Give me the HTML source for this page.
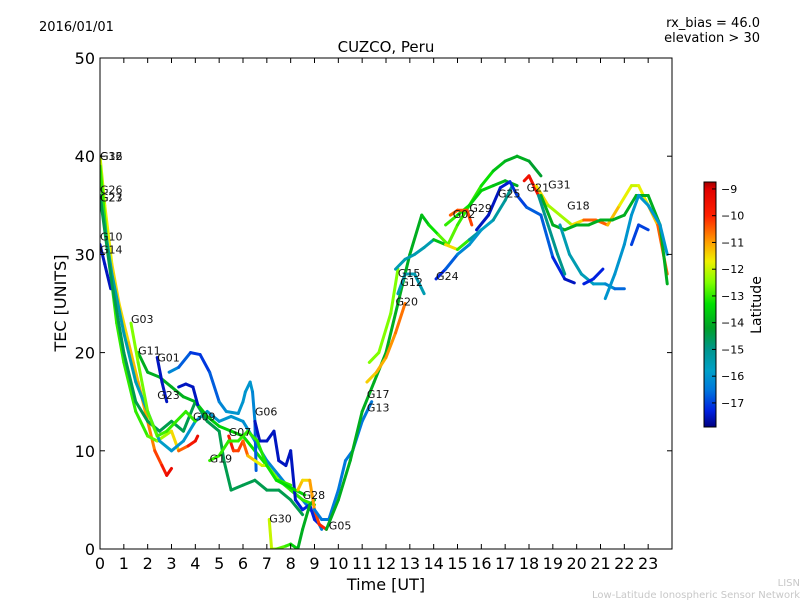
<!DOCTYPE html>
<html><head><meta charset="utf-8"><style>
body{margin:0;background:#fff;}
svg{display:block;font-family:"DejaVu Sans","Liberation Sans",sans-serif;}
</style></head><body>
<svg id="chart" width="800" height="600" viewBox="0 0 800 600" xmlns="http://www.w3.org/2000/svg">
<defs>
<linearGradient id="cmap" x1="0" y1="1" x2="0" y2="0"></linearGradient>
<clipPath id="plotclip"><rect x="100" y="58" width="572" height="491"/></clipPath>
</defs>
<rect width="800" height="600" fill="#fff"/>
<text x="39" y="31" font-size="13">2016/01/01</text>
<text x="760" y="27" font-size="13" text-anchor="end">rx_bias = 46.0</text>
<text x="760" y="42" font-size="13" text-anchor="end">elevation &gt; 30</text>
<text x="386" y="52" font-size="15" text-anchor="middle">CUZCO, Peru</text>
<text x="386" y="590" font-size="16" text-anchor="middle">Time [UT]</text>
<text x="66" y="303" font-size="16" text-anchor="middle" transform="rotate(-90 66 303)">TEC [UNITS]</text>
<text x="800" y="586" font-size="10" fill="#c8c8c8" text-anchor="end">LISN</text>
<text x="800" y="598" font-size="10" fill="#c8c8c8" text-anchor="end">Low-Latitude Ionospheric Sensor Network</text>
<g id="series" clip-path="url(#plotclip)"></g>
<g id="labels"></g>
<g id="axes"></g>
<rect x="100" y="58" width="572" height="491" fill="none" stroke="#000" stroke-width="1"/>
<rect x="704" y="182" width="12" height="245" fill="url(#cmap)" stroke="#000" stroke-width="1"/>
<g id="cbticks"></g>
<text x="761" y="305" font-size="14" text-anchor="middle" transform="rotate(-90 761 305)">Latitude</text>
</svg>
<script>
const xTicks=[0,1,2,3,4,5,6,7,8,9,10,11,12,13,14,15,16,17,18,19,20,21,22,23];
const yTicks=[0,10,20,30,40,50];
const cbTicks=[-9,-10,-11,-12,-13,-14,-15,-16,-17];
const seriesTimes=[
[0,0.2,0.5,0.8,1.2,1.6,2,2.3,2.6,2.8,3.0],
[0,0.3,0.7,1,1.5,2,2.4,3,3.3,3.7,4,4.1],
[0,0.2,0.45],
[0,0.5,1,1.5,2,2.5,3,3.5,4,4.5,5,5.5,6,6.5,7,7.5,8,8.5,9,9.3],
[0,0.5,1,1.5,2,2.5,3,3.5,4,4.5,5,5.2,5.5,6,6.5,7,7.5,8,8.5],
[1.6,2,2.5,3,3.5,4,4.5,5,5.5,6,6.5,7,7.5,8,8.5,9],
[1.3,1.6,2,2.4,2.8,3.2,3.6,4],
[2.4,2.6,2.8],
[2.9,3.3,3.8,4.2,4.6,5,5.3,5.8,6,6.1,6.3,6.4,6.5,6.55],
[3.3,3.6,3.9,4.1],
[6.5,6.7,7.0,7.3,7.5,7.8,8.0,8.2,8.5,8.8,9.0,9.3],
[5.4,5.6,5.8,6,6.2,6.5,6.8,7,7.5,8],
[4.6,5,5.4,5.8,6.2,6.6,7,7.4,7.8,8.2,8.6],
[7.1,7.2,7.4,7.8,8,8.3,8.5,8.8,9],
[8.3,8.5,8.8,9,9.2,9.5],
[9,9.3,9.6,10,10.3,10.6,11,11.4],
[9.5,10,10.5,11,11.5,12,12.5,13,13.5,13.8,14.2,14.6,15,15.5,16,16.5,17,17.5,18,18.5],
[11.2,11.6,12,12.4,12.8],
[11.3,11.7,12.2,12.5],
[12.5,12.8,13.2,13.6],
[12.4,12.8,13.2,13.6,14,14.5,15,15.5,16],
[14.1,14.5,15,15.5,16,16.5,17,17.3],
[14.5,15,15.5,16,16.5,17,17.5],
[14.7,15,15.4,15.6],
[15.8,16.3,16.8,17.2,17.5,17.9,18.5,19,19.5,19.9],
[17.8,18,18.3,18.5],
[18.3,18.8,19.3,19.8,20.3,20.8,21.3,21.8,22.3,22.6,23,23.4,23.8],
[18.5,19,19.5,20,20.5,21,21.5,22,22.5,23,23.5,23.8],
[19.3,19.7,20.2,20.7,21.2,21.6,22],
[21.2,21.6,22,22.3,22.6,23,23.5,23.8],
[22.3,22.6,23],
[20.3,20.7,21.1],
[18.4,18.8,19.2,19.5]
];
const seriesTec=[
[40,35,29,25,21,17,13,10,8.5,7.5,8.2],
[39,31,23,19,14,11.5,11,12,10,10.5,11,11.5],
[31,29,26.5],
[36,28,22,17,14,11,10,11,13,14,13,13.5,13,11,9,7.5,6,5,3.5,2],
[36,27,20,15,13,12,13,12,15,13,12,9,6,6.5,7,6,6,5,3.5],
[20,18,17.5,16.5,15.5,15,13.5,12.5,12,11.5,10,8.5,7,6,5,4.5],
[23,19,14,11.5,12,13,14,13],
[19.5,17,15],
[18,18.5,20,19.8,18,15,14,13.8,15,16,17,16,13,8],
[16.5,16.8,16.5,14.7],
[13,11,11,12,9,8.5,10,5,4,4.5,3,2.3],
[11.5,10,10,11,9.5,9,8.5,8.5,7,6.5],
[9,9.5,11,11,12,11,8.5,7,6.5,6,5.5],
[3,0,0,0.3,0.5,0,2,4.5,5],
[6,7,7,4,2.5,2],
[4,3,3,6,9,10,13,15],
[2,5,9,14,17,20,25,30,34,33,32,31,33,35,37,38.5,39.5,40,39.5,38],
[17,18,19.5,22,25],
[19,20,24,28.5],
[26,28,28,26],
[28.5,29.5,30,30.7,31.5,31,30.5,31.5,32.5],
[27.5,28.5,30,31,32.5,33.5,35.5,37],
[33,34,35,36.5,37,37.5,37],
[34,34.5,34.5,33],
[32.5,34,36.8,37.4,36,34.8,34,29.7,27.5,27.1],
[37.5,38,36.5,35.5],
[37,35,34,33,33.5,33.5,33,35,37,37,35,33,28],
[36,33,32.5,33,33,33.5,33.5,34,36,36,33,27],
[33,30,28,27,27,26.5,26.5],
[25.5,28,31,34,36,35,33,30],
[31,33,32.5],
[27,27.5,28.5],
[36,33,30,28]
];
const seriesLat=[
[-12,-12,-11.5,-11.5,-11.5,-11,-11,-10.5,-10,-9.5,-9.2],
[-13,-13,-13,-13,-13,-13,-12.5,-12,-11,-10,-9.5,-9.3],
[-17.5,-17.5,-17.5],
[-15.5,-15.5,-15.5,-15.5,-15.7,-15.7,-16,-16,-16,-16,-16,-16,-16,-16.2,-16.2,-16.3,-16.3,-16.5,-16.5,-16.5],
[-14.5,-14.5,-14.5,-14.5,-14.5,-14.5,-14.5,-14.5,-14.5,-14.5,-14.5,-14.5,-14.5,-14.5,-14.5,-14.5,-14.5,-14.5,-14.5],
[-14,-14,-14,-14,-14,-13.8,-13.6,-13.5,-13.5,-13.3,-13.2,-13.2,-13,-13,-13,-13],
[-12.5,-12.5,-12.7,-12.8,-13,-13,-13,-13],
[-17.5,-17.5,-17.5],
[-16,-16.5,-17,-17.2,-17,-16.5,-16,-16,-16,-16,-16,-16,-16.5,-17],
[-17.5,-17.5,-17.5,-17.5],
[-17.5,-17.5,-17.5,-17.5,-17.5,-17.5,-17.5,-17.5,-17.3,-17.3,-17.3,-17.3],
[-9.5,-10,-10.5,-10,-11,-11.5,-12,-12,-13,-13],
[-13,-13,-13,-13,-13,-13,-13.2,-13.2,-13.4,-13.4,-13.5],
[-12,-12,-12.5,-13,-13,-14,-14,-14,-14],
[-11,-11.5,-11.5,-10.5,-10,-10],
[-16.5,-16.5,-16.5,-16.5,-16.5,-16.5,-16.5,-16.5],
[-14,-14,-14,-14,-14,-14,-14,-14,-14,-13.5,-13,-12.5,-13,-13,-13,-13.5,-14,-14,-14,-14.5],
[-11.5,-11.3,-11,-10.8,-10.5],
[-12.5,-12.5,-12.5,-12.5],
[-15.5,-15.5,-15.5,-15.5],
[-15.5,-15.5,-15.5,-15.5,-15.5,-12,-11,-15,-15.5],
[-17.5,-17,-16.5,-16,-16,-15.5,-15,-15],
[-13,-13,-13.5,-13.5,-13.5,-14,-14],
[-10.5,-10.5,-10.3,-10.2],
[-17.5,-17.5,-17.5,-17.3,-17,-17,-16.5,-17,-17.5,-17.5],
[-9.5,-9.5,-9.5,-9.5],
[-11,-12,-12.5,-12,-11,-10,-11,-11.5,-12,-12,-11.5,-11,-10],
[-14,-14,-14,-14,-14,-14,-14,-14,-14,-14,-14,-14],
[-15.5,-15.5,-15.5,-15.7,-16,-16.3,-17],
[-16,-16,-16,-16,-16,-16,-16,-16],
[-17,-17,-17],
[-17.3,-17.3,-17.3],
[-15,-15,-15,-15]
];
const labelText=["G16","G32","G26","G27","G23","G10","G14","G03","G11","G01","G23","G09","G07","G06","G19","G30","G28","G05","G17","G13","G20","G15","G12","G24","G02","G29","G25","G21","G31","G18"];
const labelT=[0,0,0,0,0,0,0,1.3,1.6,2.4,2.4,3.9,5.4,6.5,4.6,7.1,8.5,9.6,11.2,11.2,12.4,12.5,12.6,14.1,14.8,15.5,16.7,17.9,18.8,19.6];
const labelV=[40,40,36.6,35.8,35.8,31.8,30.5,23.4,20.2,19.5,15.7,13.5,11.9,14,9.2,3.1,5.5,2.4,15.8,14.4,25.2,28.1,27.2,27.8,34.1,34.7,36.2,36.8,37.1,35.0];

const NS="http://www.w3.org/2000/svg";
const X0=100,X1=672,Y0=549,Y1=58;
const LMIN=-17.9,LMAX=-8.74;
const cmapLat=[-17.9,-17.3,-16.5,-15.8,-15.0,-14.2,-13.3,-12.5,-11.7,-11.0,-10.0,-9.0,-8.74];
const cmapCol=[[0,0,128],[0,32,224],[0,120,220],[0,160,200],[0,150,140],[0,160,40],[0,224,0],[128,255,0],[240,240,0],[255,160,0],[255,32,0],[224,0,0],[160,0,0]];
function xs(t){return X0+(t/24)*(X1-X0);}
function ys(v){return Y0-(v/50)*(Y0-Y1);}
function cbY(l){return 427-(l-LMIN)/(LMAX-LMIN)*245;}
function cmap(l){
  l=Math.max(LMIN,Math.min(LMAX,l));
  for(let i=0;i<cmapLat.length-1;i++){
    if(l<=cmapLat[i+1]){
      const f=(l-cmapLat[i])/(cmapLat[i+1]-cmapLat[i]);
      const a=cmapCol[i],b=cmapCol[i+1];
      return `rgb(${Math.round(a[0]+(b[0]-a[0])*f)},${Math.round(a[1]+(b[1]-a[1])*f)},${Math.round(a[2]+(b[2]-a[2])*f)})`;
    }
  }
  return 'rgb(160,0,0)';
}
function mk(tag,attrs,parent){const e=document.createElementNS(NS,tag);for(const k in attrs)e.setAttribute(k,attrs[k]);parent.appendChild(e);return e;}
const grad=document.getElementById('cmap');
cmapLat.forEach((l,i)=>{
  mk('stop',{offset:(l-LMIN)/(LMAX-LMIN),'stop-color':`rgb(${cmapCol[i].join(',')})`},grad);
});
const sg=document.getElementById('series');
seriesTimes.forEach((ts,i)=>{
  const g=mk('g',{},sg);
  
  
  for(let j=0;j<ts.length-1;j++){
    const l=(seriesLat[i][j]+seriesLat[i][j+1])/2;
    const ln=mk('line',{x1:xs(ts[j]),y1:ys(seriesTec[i][j]),x2:xs(ts[j+1]),y2:ys(seriesTec[i][j+1]),stroke:cmap(l),'stroke-width':3,'stroke-linecap':'round'},g);
    
    
  }
});
const lg=document.getElementById('labels');
labelText.forEach((s,i)=>{
  const t=mk('text',{x:xs(labelT[i]),y:ys(labelV[i])+4,'font-size':11,fill:'#111'},lg);
  t.textContent=s;
  
  
});
const ag=document.getElementById('axes');
xTicks.forEach(v=>{
  const x=xs(v);
  const a=mk('line',{x1:x,y1:Y0,x2:x,y2:Y0-5,stroke:'#000'},ag);
  
  
  const b=mk('line',{x1:x,y1:Y1,x2:x,y2:Y1+5,stroke:'#000'},ag);
  
  
  const t=mk('text',{x:x,y:569,'font-size':16,'text-anchor':'middle'},ag);
  t.textContent=v;
  
  
});
yTicks.forEach(v=>{
  const y=ys(v);
  const a=mk('line',{x1:X0,y1:y,x2:X0+5,y2:y,stroke:'#000'},ag);
  
  
  const b=mk('line',{x1:X1,y1:y,x2:X1-5,y2:y,stroke:'#000'},ag);
  
  
  const t=mk('text',{x:95,y:y+6,'font-size':16,'text-anchor':'end'},ag);
  t.textContent=v;
  
  
});
const cg=document.getElementById('cbticks');
cbTicks.forEach(v=>{
  const y=cbY(v);
  const a=mk('line',{x1:712,y1:y,x2:716,y2:y,stroke:'#000'},cg);
  
  
  const t=mk('text',{x:721,y:y+4,'font-size':11},cg);
  t.textContent='\u2212'+Math.abs(v);
  
  
});
</script>
</body></html>
